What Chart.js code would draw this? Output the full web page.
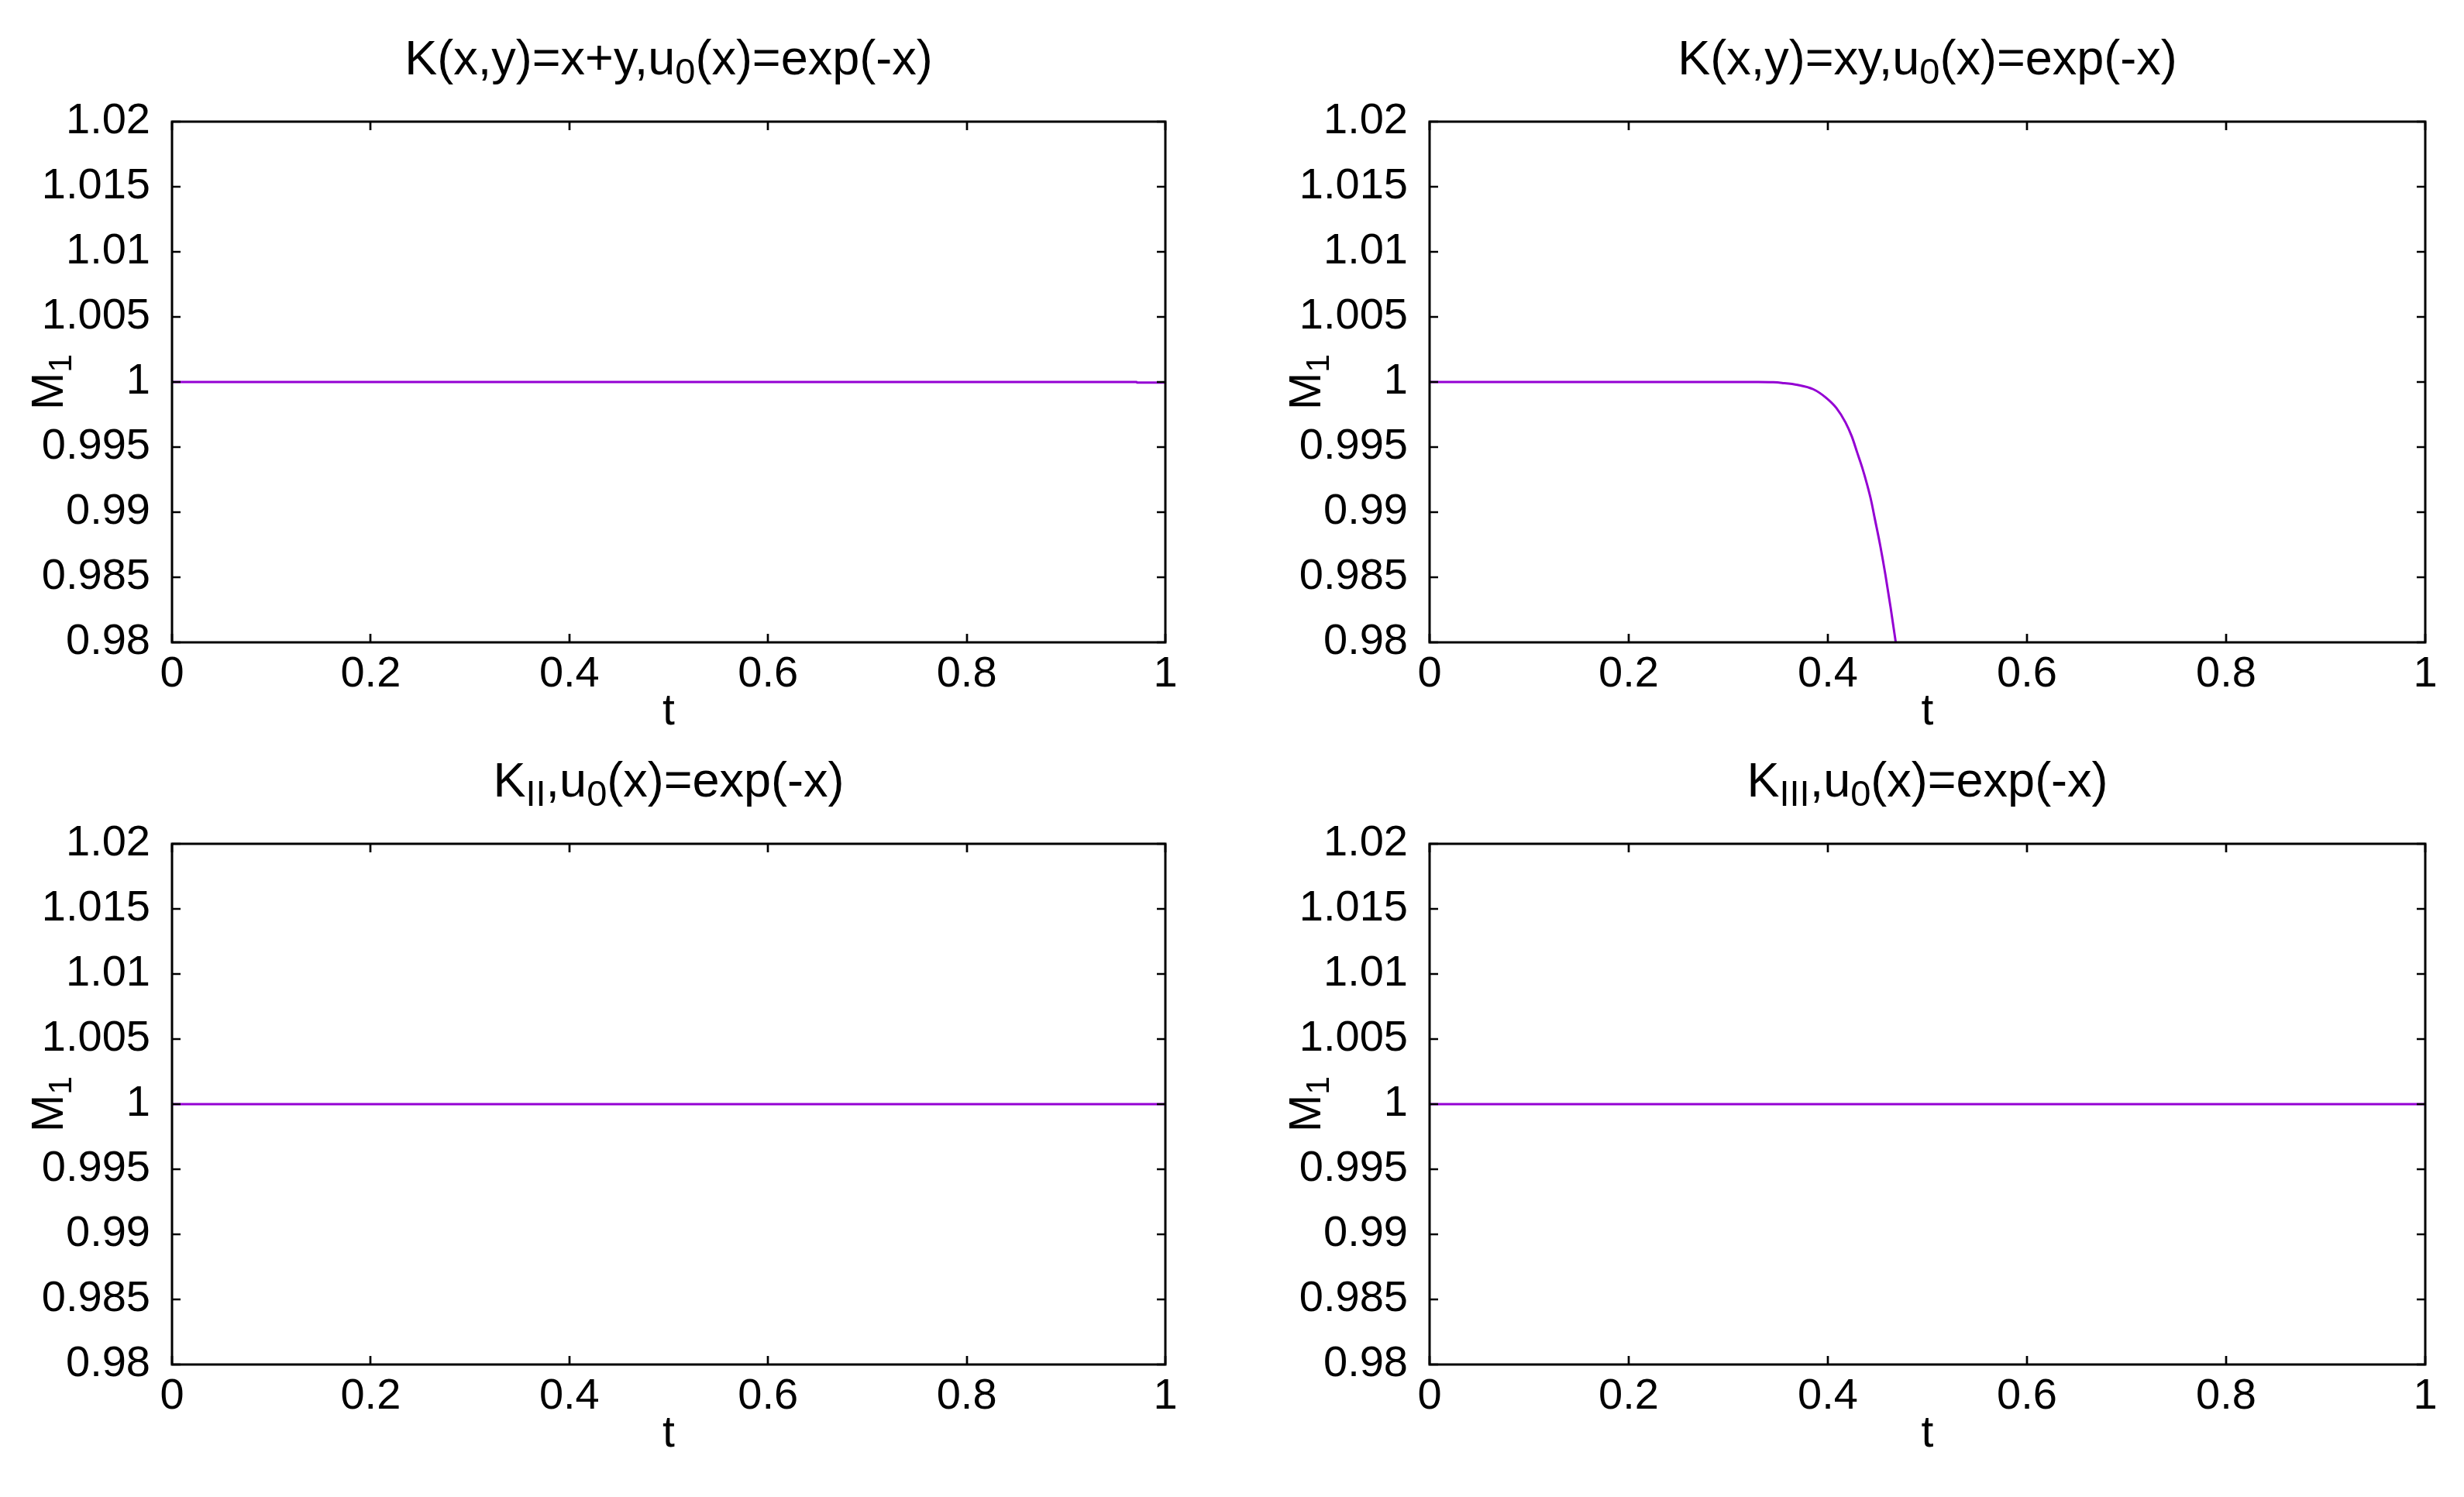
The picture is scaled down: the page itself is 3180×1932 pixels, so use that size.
<!DOCTYPE html>
<html>
<head>
<meta charset="utf-8">
<script src="https://cdn.jsdelivr.net/npm/chart.js@4.4.1/dist/chart.umd.min.js"></script>
<style>
  html, body { margin: 0; padding: 0; background: #fff; }
  body { width: 3180px; height: 1932px; position: relative; overflow: hidden; }
  canvas { position: absolute; }
</style>
</head>
<body>
<canvas id="c1" width="1590" height="966" style="left:0px;top:0px"></canvas>
<canvas id="c2" width="1590" height="966" style="left:1590px;top:0px"></canvas>
<canvas id="c3" width="1590" height="966" style="left:0px;top:966px"></canvas>
<canvas id="c4" width="1590" height="966" style="left:1590px;top:966px"></canvas>
<script>
// axis ticks
const tTicks = [0, 0.2, 0.4, 0.6, 0.8, 1]
const tTickLabels = ["0", "0.2", "0.4", "0.6", "0.8", "1"]
const mTicks = [0.98, 0.985, 0.99, 0.995, 1, 1.005, 1.01, 1.015, 1.02]
const mTickLabels = ["0.98", "0.985", "0.99", "0.995", "1", "1.005", "1.01", "1.015", "1.02"]

// K(x,y)=x+y
const tSum = [0, 0.971, 0.9715, 1]
const mSum = [1, 1, 0.99996, 0.99996]

// K(x,y)=xy
const tProd = [0, 0.33, 0.345, 0.354, 0.3696, 0.3852, 0.3982, 0.4086, 0.4177, 0.4241, 0.4293,
  0.4345, 0.4397, 0.4436, 0.447, 0.4527, 0.4578, 0.463, 0.4682, 0.472]
const mProd = [1, 1, 0.99998, 0.99993, 0.99978, 0.99945, 0.99879, 0.998, 0.9969, 0.99581, 0.99462,
  0.99343, 0.99204, 0.99085, 0.98956, 0.9874, 0.9852, 0.9827, 0.98, 0.9779]

// K_II
const tII = [0, 1]
const mII = [1, 1]

// K_III
const tIII = [0, 1]
const mIII = [1, 1]

const FONT = '"Liberation Sans", Arial, sans-serif'
const LINE_COLOR = "#9400d3"

// draws text with subscript parts: [[text, isSub], ...]
function drawRich(ctx, parts, x, y, size) {
  const subSize = Math.round(size * 0.74)
  let total = 0
  parts.forEach(p => {
    ctx.font = (p[1] ? subSize : size) + "px " + FONT
    total += ctx.measureText(p[0]).width
  })
  let cx = x - total / 2
  ctx.textAlign = "left"
  ctx.textBaseline = "alphabetic"
  parts.forEach(p => {
    ctx.font = (p[1] ? subSize : size) + "px " + FONT
    ctx.fillText(p[0], cx, p[1] ? y + size * 0.19 : y)
    cx += ctx.measureText(p[0]).width
  })
}

const framePlugin = {
  id: "frame",
  afterDraw(chart, args, opts) {
    const { ctx, chartArea: a } = chart
    const x = chart.scales.x
    const y = chart.scales.y
    const tick = 11

    ctx.save()
    ctx.strokeStyle = "#000"
    ctx.fillStyle = "#000"
    ctx.lineWidth = 2.7
    ctx.beginPath()
    x.ticks.forEach(tk => {
      const px = Math.round(x.getPixelForValue(tk.value))
      ctx.moveTo(px, a.bottom); ctx.lineTo(px, a.bottom - tick)
      ctx.moveTo(px, a.top); ctx.lineTo(px, a.top + tick)
    })
    y.ticks.forEach(tk => {
      const py = Math.round(y.getPixelForValue(tk.value))
      ctx.moveTo(a.left, py); ctx.lineTo(a.left + tick, py)
      ctx.moveTo(a.right, py); ctx.lineTo(a.right - tick, py)
    })
    ctx.stroke()

    ctx.lineWidth = 3
    ctx.strokeRect(a.left, a.top, a.right - a.left, a.bottom - a.top)

    // title
    drawRich(ctx, opts.title, (a.left + a.right) / 2, a.top - 61, 63)

    // x axis title
    ctx.font = "57px " + FONT
    ctx.textAlign = "center"
    ctx.textBaseline = "alphabetic"
    ctx.fillText("t", (a.left + a.right) / 2, a.bottom + 106)

    // y axis title
    ctx.translate(a.left - 141, (a.top + a.bottom) / 2)
    ctx.rotate(-Math.PI / 2)
    drawRich(ctx, [["M", false], ["1", true]], 0, 0, 58)
    ctx.restore()
  }
}

function makeChart(id, canvasLeft, canvasTop, area, title, ts, ms) {
  const el = document.getElementById(id)
  const W = el.width
  const H = el.height
  const left = area.l - canvasLeft
  const right = area.r - canvasLeft
  const top = area.t - canvasTop
  const bottom = area.b - canvasTop

  return new Chart(el, {
    type: "line",
    data: {
      datasets: [
        {
          data: ts.map((t, i) => ({ x: t, y: ms[i] })),
          borderColor: LINE_COLOR,
          borderWidth: 3,
          pointRadius: 0,
          cubicInterpolationMode: "monotone",
          fill: false
        }
      ]
    },
    options: {
      responsive: false,
      animation: false,
      devicePixelRatio: 1,
      layout: {
        padding: { left: 0, top: top, right: W - right, bottom: 0 }
      },
      plugins: {
        legend: { display: false },
        tooltip: { enabled: false },
        frame: { title: title }
      },
      scales: {
        x: {
          type: "linear",
          min: 0,
          max: 1,
          grid: { display: false },
          border: { display: false },
          afterBuildTicks: s => { s.ticks = tTicks.map(v => ({ value: v })) },
          afterFit: s => { s.height = H - bottom },
          ticks: {
            callback: (v, i) => tTickLabels[i],
            font: { family: FONT, size: 56 },
            color: "#000",
            padding: 0,
            maxRotation: 0,
            autoSkip: false
          }
        },
        y: {
          type: "linear",
          min: 0.98,
          max: 1.02,
          grid: { display: false },
          border: { display: false },
          afterBuildTicks: s => { s.ticks = mTicks.map(v => ({ value: v })) },
          afterFit: s => { s.width = left },
          ticks: {
            callback: (v, i) => mTickLabels[i],
            font: { family: FONT, size: 56 },
            color: "#000",
            padding: 20,
            autoSkip: false
          }
        }
      }
    },
    plugins: [framePlugin]
  })
}

makeChart("c1", 0, 0, { l: 222, r: 1504, t: 157, b: 829 },
  [["K(x,y)=x+y,u", false], ["0", true], ["(x)=exp(-x)", false]], tSum, mSum)
makeChart("c2", 1590, 0, { l: 1845, r: 3130, t: 157, b: 829 },
  [["K(x,y)=xy,u", false], ["0", true], ["(x)=exp(-x)", false]], tProd, mProd)
makeChart("c3", 0, 966, { l: 222, r: 1504, t: 1089, b: 1761 },
  [["K", false], ["II", true], [",u", false], ["0", true], ["(x)=exp(-x)", false]], tII, mII)
makeChart("c4", 1590, 966, { l: 1845, r: 3130, t: 1089, b: 1761 },
  [["K", false], ["III", true], [",u", false], ["0", true], ["(x)=exp(-x)", false]], tIII, mIII)
</script>
</body>
</html>
